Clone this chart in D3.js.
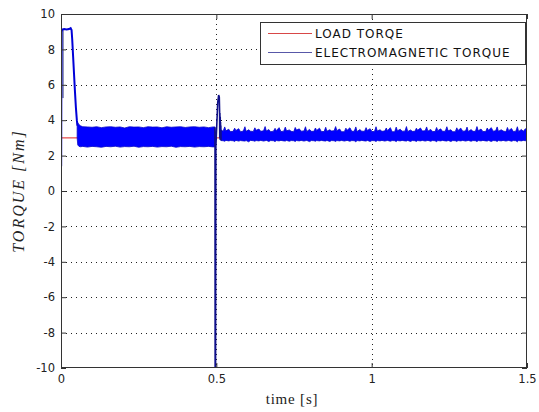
<!DOCTYPE html>
<html><head><meta charset="utf-8">
<script src="https://cdn.jsdelivr.net/npm/d3@7/dist/d3.min.js"></script>
<style>
html,body{margin:0;padding:0;background:#fff;}
svg{display:block;}
</style></head>
<body>
<svg id="chart" width="539" height="412"></svg>
<script>
// ---- data ----
const xTicks = [0, 0.5, 1, 1.5];
const yTicks = [-10, -8, -6, -4, -2, 0, 2, 4, 6, 8, 10];
const legendLabels = ["LOAD TORQE", "ELECTROMAGNETIC TORQUE"];

// load torque [t, Nm]
const loadTorque = [[0, 3], [1.5, 3]];

// start-up dense oscillation region [t, hi, lo]
const emStartBand = [[0.0003, 9.15, 5.25], [0.0095, 9.15, 5.25]];

// start-up transient [t, Nm]
const emStart = [[0.0005,1.4],[0.0015,9.0],[0.004,9.12],[0.010,9.15],[0.018,9.12],[0.026,9.15],[0.031,9.2],[0.034,9.1],
  [0.036,8.6],[0.039,7.6],[0.042,6.6],[0.045,5.6],[0.048,4.7],[0.051,4.0],[0.053,3.7]];

// ripple envelope before 0.5 s [t, upper, lower]
const emBandBefore = [[0.052,3.95,3.0],[0.054,3.85,2.6],[0.058,3.75,2.52],[0.063,3.68,2.5],[0.070,3.63,2.52],[0.085,3.62,2.48],
  [0.100,3.60,2.52],[0.115,3.63,2.50],[0.130,3.58,2.47],[0.145,3.62,2.52],[0.160,3.63,2.50],[0.175,3.60,2.53],[0.190,3.62,2.48],
  [0.205,3.56,2.51],[0.220,3.63,2.50],[0.235,3.61,2.53],[0.250,3.62,2.47],[0.265,3.58,2.51],[0.280,3.63,2.50],[0.295,3.61,2.52],
  [0.310,3.62,2.48],[0.325,3.57,2.51],[0.340,3.63,2.50],[0.355,3.60,2.53],[0.370,3.62,2.47],[0.385,3.63,2.51],[0.400,3.59,2.50],
  [0.415,3.62,2.52],[0.430,3.63,2.48],[0.445,3.60,2.51],[0.460,3.62,2.50],[0.475,3.58,2.52],[0.490,3.62,2.49],[0.4955,3.62,2.50]];

// transient at 0.5 s [t, Nm]
const emDip = [[0.4952,3.6],[0.4958,2.5],[0.4962,-10.3],[0.4975,-10.3],[0.4985,2.5],[0.5045,5.0],[0.5075,5.42],[0.5095,5.3],
  [0.5105,4.5],[0.511,3.0],[0.5115,4.4],[0.512,2.9],[0.5125,4.2],[0.513,2.9],[0.5135,3.9],[0.514,2.9],[0.5145,3.7],[0.515,2.85]];

// ripple envelope after 0.5 s [t, upper, lower]
const emBandAfter = [[0.515,3.45,2.85],
  [0.522,3.38,2.84],[0.527,3.62,2.81],[0.531,3.40,2.86],[0.540,3.49,2.83],[0.545,3.36,2.85],
  [0.554,3.37,2.84],[0.559,3.55,2.80],[0.563,3.42,2.86],[0.572,3.52,2.82],[0.578,3.35,2.85],
  [0.587,3.39,2.83],[0.592,3.63,2.82],[0.596,3.37,2.85],[0.604,3.46,2.78],[0.610,3.38,2.86],
  [0.619,3.36,2.84],[0.624,3.57,2.81],[0.628,3.43,2.85],[0.637,3.50,2.83],[0.643,3.37,2.86],
  [0.652,3.40,2.82],[0.657,3.64,2.84],[0.661,3.39,2.86],[0.669,3.47,2.80],[0.675,3.35,2.85],
  [0.684,3.38,2.84],[0.689,3.54,2.79],[0.693,3.41,2.85],[0.702,3.58,2.83],[0.708,3.36,2.86],
  [0.717,3.38,2.83],[0.722,3.61,2.82],[0.726,3.40,2.86],[0.735,3.45,2.81],[0.741,3.37,2.85],
  [0.749,3.35,2.84],[0.754,3.59,2.80],[0.758,3.44,2.85],[0.767,3.51,2.83],[0.773,3.38,2.86],
  [0.782,3.39,2.82],[0.787,3.63,2.84],[0.791,3.36,2.86],[0.800,3.48,2.79],[0.806,3.37,2.85],
  [0.814,3.37,2.84],[0.819,3.56,2.81],[0.823,3.42,2.85],[0.832,3.55,2.83],[0.838,3.36,2.86],
  [0.847,3.36,2.83],[0.852,3.60,2.82],[0.856,3.38,2.86],[0.865,3.46,2.80],[0.871,3.39,2.85],
  [0.879,3.40,2.84],[0.884,3.64,2.80],[0.888,3.41,2.85],[0.897,3.50,2.83],[0.903,3.35,2.86],
  [0.912,3.35,2.82],[0.917,3.55,2.84],[0.921,3.43,2.86],[0.930,3.57,2.81],[0.936,3.37,2.85],
  [0.944,3.38,2.84],[0.949,3.62,2.78],[0.953,3.36,2.85],[0.962,3.47,2.83],[0.968,3.38,2.86],
  [0.977,3.37,2.83],[0.982,3.58,2.82],[0.986,3.42,2.86],[0.995,3.52,2.80],[1.001,3.36,2.85],
  [1.009,3.36,2.84],[1.014,3.63,2.80],[1.018,3.39,2.85],[1.027,3.46,2.83],[1.033,3.37,2.86],
  [1.042,3.39,2.82],[1.047,3.56,2.84],[1.051,3.41,2.86],[1.060,3.58,2.81],[1.066,3.35,2.85],
  [1.074,3.35,2.84],[1.079,3.61,2.79],[1.083,3.40,2.85],[1.092,3.49,2.83],[1.098,3.38,2.86],
  [1.107,3.38,2.83],[1.112,3.64,2.82],[1.116,3.36,2.86],[1.125,3.45,2.80],[1.131,3.37,2.85],
  [1.139,3.37,2.84],[1.144,3.55,2.80],[1.148,3.43,2.85],[1.157,3.56,2.83],[1.163,3.39,2.86],
  [1.172,3.40,2.82],[1.177,3.62,2.84],[1.181,3.38,2.86],[1.190,3.48,2.81],[1.196,3.36,2.85],
  [1.204,3.36,2.84],[1.209,3.59,2.78],[1.213,3.41,2.85],[1.222,3.51,2.83],[1.228,3.37,2.86],
  [1.237,3.38,2.83],[1.242,3.63,2.82],[1.246,3.40,2.86],[1.255,3.46,2.80],[1.261,3.35,2.85],
  [1.269,3.35,2.84],[1.274,3.57,2.80],[1.278,3.42,2.85],[1.287,3.55,2.83],[1.293,3.38,2.86],
  [1.302,3.39,2.82],[1.307,3.61,2.84],[1.311,3.36,2.86],[1.320,3.47,2.81],[1.326,3.37,2.85],
  [1.334,3.37,2.84],[1.339,3.64,2.79],[1.343,3.40,2.85],[1.352,3.50,2.83],[1.358,3.36,2.86],
  [1.367,3.36,2.83],[1.372,3.56,2.82],[1.376,3.43,2.86],[1.385,3.58,2.80],[1.391,3.38,2.85],
  [1.399,3.40,2.84],[1.404,3.62,2.80],[1.408,3.37,2.85],[1.417,3.46,2.83],[1.423,3.39,2.86],
  [1.432,3.35,2.82],[1.437,3.59,2.84],[1.441,3.41,2.86],[1.450,3.53,2.81],[1.456,3.36,2.85],
  [1.464,3.38,2.84],[1.469,3.63,2.78],[1.473,3.36,2.85],[1.482,3.48,2.83],[1.488,3.37,2.86],
  [1.495,3.52,2.84],[1.500,3.45,2.83]];

// ---- drawing ----
const L = 61, R = 527, T = 14, B = 368;
const svg = d3.select("#chart");
const x = d3.scaleLinear().domain([0, 1.5]).range([L, R]);
const y = d3.scaleLinear().domain([-10, 10]).range([B, T]);

svg.append("defs").append("clipPath").attr("id", "clip")
  .append("rect").attr("x", L).attr("y", T).attr("width", R - L).attr("height", B - T);

// grid
const grid = svg.append("g").attr("stroke", "#222").attr("stroke-width", 1).attr("stroke-dasharray", "1,4");
xTicks.filter(d => d > 0 && d < 1.5).forEach(d => {
  grid.append("line").attr("x1", Math.round(x(d)) + 0.5).attr("x2", Math.round(x(d)) + 0.5)
    .attr("y1", T).attr("y2", B);
});
yTicks.filter(d => d > -10 && d < 10).forEach(d => {
  grid.append("line").attr("y1", Math.round(y(d)) + 0.5).attr("y2", Math.round(y(d)) + 0.5)
    .attr("x1", L).attr("x2", R);
});

const plot = svg.append("g").attr("clip-path", "url(#clip)");
const line = d3.line().x(d => x(d[0])).y(d => y(d[1]));
const area = d3.area().x(d => x(d[0])).y0(d => y(d[2])).y1(d => y(d[1]));

plot.append("path").attr("d", line(loadTorque)).attr("fill", "none").attr("stroke", "#e02020").attr("stroke-width", 1);

plot.append("path").attr("d", area(emStartBand)).attr("fill", "#8d91b8");
plot.append("path").attr("d", area(emBandBefore)).attr("fill", "#0000ff").attr("stroke", "#0808c8").attr("stroke-width", 0.8);
plot.append("path").attr("d", area(emBandAfter)).attr("fill", "#0000ff").attr("stroke", "#0808c8").attr("stroke-width", 0.8);
plot.append("path").attr("d", line(emStart)).attr("fill", "none").attr("stroke", "#0000d8").attr("stroke-width", 2);
plot.append("path").attr("d", line(emDip)).attr("fill", "none").attr("stroke", "#10108a").attr("stroke-width", 1.6);

// axes
const fmt = d => String(d);
const axColor = "#333";
function styleAxis(g) {
  g.select(".domain").remove();
  g.selectAll(".tick line").attr("stroke", axColor);
  g.selectAll(".tick text").attr("fill", "#222").attr("font-family", "DejaVu Sans, sans-serif").attr("font-size", "11.5px");
}
svg.append("g").attr("transform", `translate(${L},0)`)
  .call(d3.axisLeft(y).tickValues(yTicks).tickFormat(fmt).tickSizeInner(-5).tickSizeOuter(0).tickPadding(6))
  .call(styleAxis);
svg.append("g").attr("transform", `translate(${R},0)`)
  .call(d3.axisRight(y).tickValues(yTicks).tickFormat("").tickSizeInner(-5).tickSizeOuter(0))
  .call(styleAxis);
svg.append("g").attr("transform", `translate(0,${B})`)
  .call(d3.axisBottom(x).tickValues(xTicks).tickFormat(fmt).tickSizeInner(-5).tickSizeOuter(0).tickPadding(7))
  .call(styleAxis);
svg.append("g").attr("transform", `translate(0,${T})`)
  .call(d3.axisTop(x).tickValues(xTicks).tickFormat("").tickSizeInner(-5).tickSizeOuter(0))
  .call(styleAxis);

svg.append("rect").attr("x", L + 0.5).attr("y", T + 0.5).attr("width", R - L - 1).attr("height", B - T - 1)
  .attr("fill", "none").attr("stroke", axColor).attr("stroke-width", 1);

// axis labels
svg.append("text").attr("x", (L + R) / 2 - 2).attr("y", 404).attr("text-anchor", "middle")
  .attr("font-family", "Liberation Serif, Times New Roman, serif").attr("font-size", "15px")
  .attr("letter-spacing", "0.8px").attr("fill", "#222").text("time [s]");
svg.append("text").attr("transform", `translate(24,${(T + B) / 2}) rotate(-90)`).attr("text-anchor", "middle")
  .attr("font-family", "Liberation Serif, Times New Roman, serif").attr("font-size", "16px").attr("font-style", "italic")
  .attr("letter-spacing", "2px").attr("fill", "#222").text("TORQUE [Nm]");

// legend
const lg = svg.append("g");
lg.append("rect").attr("x", 260.5).attr("y", 22.5).attr("width", 265).attr("height", 42)
  .attr("fill", "#fff").attr("stroke", "#333").attr("stroke-width", 1);
const legColors = ["#d84848", "#5858a8"];
const rowsY = [33.5, 52.5];
legendLabels.forEach((lab, i) => {
  lg.append("line").attr("x1", 268).attr("x2", 312).attr("y1", rowsY[i]).attr("y2", rowsY[i])
    .attr("stroke", legColors[i]).attr("stroke-width", 1);
  lg.append("text").attr("x", 315).attr("y", rowsY[i] + 4.3)
    .attr("font-family", "DejaVu Sans, sans-serif").attr("font-size", "12px").attr("letter-spacing", "1px")
    .attr("fill", "#111").text(lab);
});
</script>
</body></html>
